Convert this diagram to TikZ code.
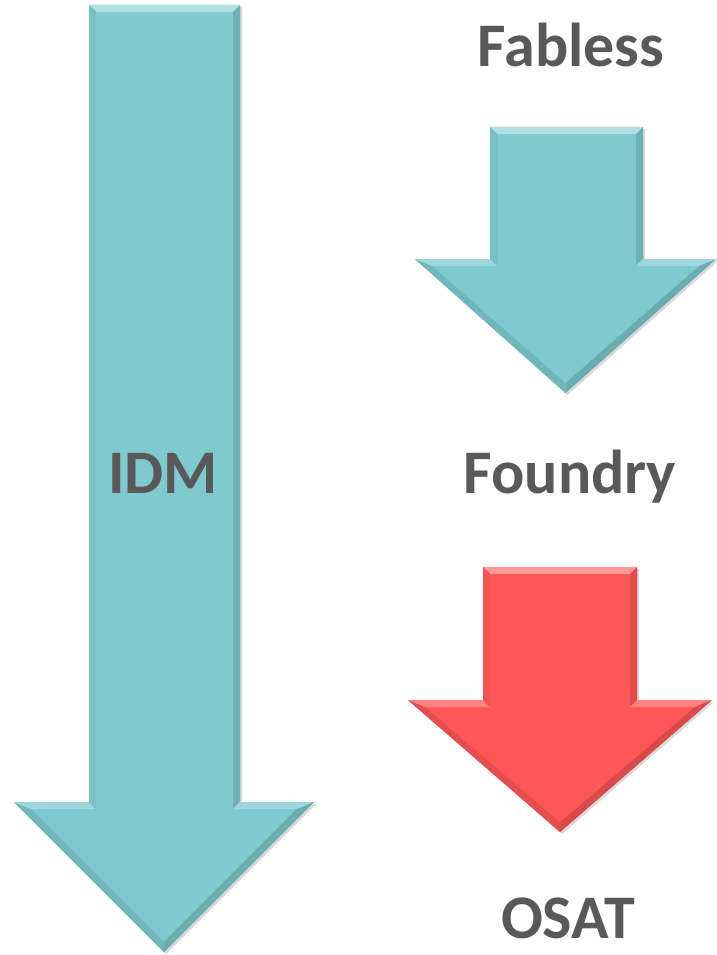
\documentclass[tikz,border=0pt]{standalone}
\usepackage{fontspec}
\setmainfont{Carlito}
\usepackage{xcolor}

\definecolor{teal}{HTML}{7ECACF}
\definecolor{alarm}{HTML}{FF5757}
\definecolor{labelgray}{HTML}{595959}

\tikzset{
  label text/.style={font=\bfseries\fontsize{62}{62}\selectfont, text=labelgray, inner sep=0pt, anchor=base},
}

% bevelled down arrow: shaft left, shaft right, top, shoulder, head left, head right, tip, colour
\newcommand{\bevelarrow}[8]{%
  \pgfmathsetmacro{\tipx}{(#5+#6)/2}
  \def\d{7}
  \fill[black, opacity=0.15] (#1+2,#3+2) -- (#2+2,#3+2) -- (#2+2,#4+2) -- (#6+2,#4+2) -- (\tipx+2,#7+2) -- (#5+2,#4+2) -- (#1+2,#4+2) -- cycle;
  \fill[#8] (#1,#3) -- (#2,#3) -- (#2,#4) -- (#6,#4) -- (\tipx,#7) -- (#5,#4) -- (#1,#4) -- cycle;
  % facets
  \fill[#8!60!white] (#1,#3) -- (#2,#3) -- (#2-\d,#3+\d) -- (#1+\d,#3+\d) -- cycle;
  \fill[#8!88!black] (#2,#3) -- (#2,#4) -- (#2-\d,#4+\d) -- (#2-\d,#3+\d) -- cycle;
  \fill[#8!75!white] (#2,#4) -- (#6,#4) -- (#6-2.41*\d,#4+\d) -- (#2-\d,#4+\d) -- cycle;
  \fill[#8!85!black] (#6,#4) -- (\tipx,#7) -- (\tipx,#7-1.41*\d) -- (#6-2.41*\d,#4+\d) -- cycle;
  \fill[#8!90!black] (\tipx,#7) -- (#5,#4) -- (#5+2.41*\d,#4+\d) -- (\tipx,#7-1.41*\d) -- cycle;
  \fill[#8!75!white] (#5,#4) -- (#1,#4) -- (#1+\d,#4+\d) -- (#5+2.41*\d,#4+\d) -- cycle;
  \fill[#8!95!black] (#1,#4) -- (#1,#3) -- (#1+\d,#3+\d) -- (#1+\d,#4+\d) -- cycle;
}

\begin{document}
\begin{tikzpicture}[x=1pt, y=-1pt]
  \useasboundingbox (0,0) rectangle (716,955);

  % arrows
  \bevelarrow{89}{240}{5}{802}{14}{314}{952}{teal}
  \bevelarrow{490}{643}{127}{259}{415}{716}{393}{teal}
  \bevelarrow{483}{637}{567}{700}{408}{712}{832}{alarm}

  % labels
  \node[label text] (idm) at (163,493) {IDM};
  \node[label text] (fabless) at (571,67) {Fabless};
  \node[label text] (foundry) at (570,493) {Foundry};
  \node[label text] (osat) at (568,938) {OSAT};
\end{tikzpicture}
\end{document}
